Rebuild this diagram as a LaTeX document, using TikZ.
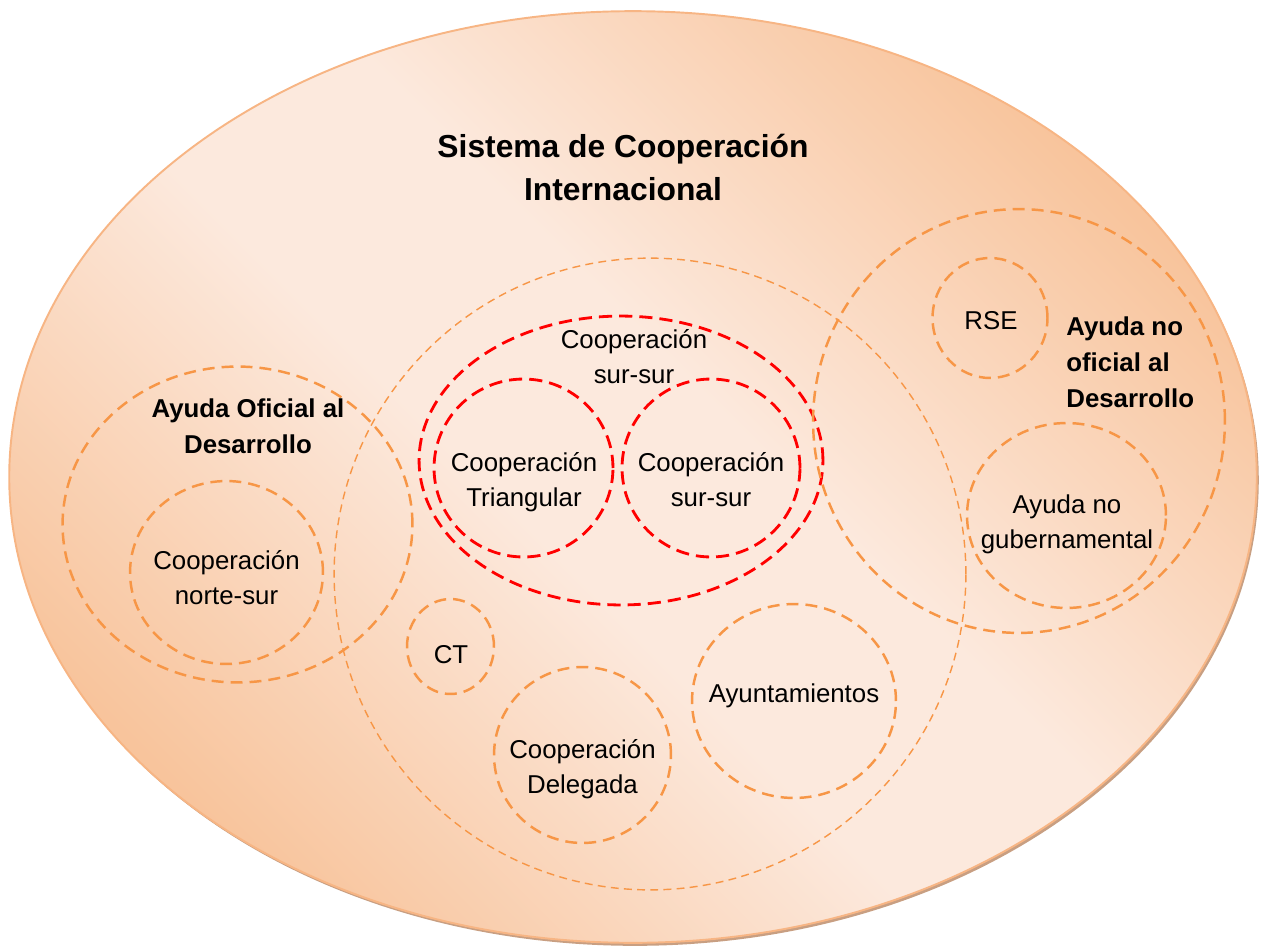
\documentclass[tikz,border=0pt]{standalone}
\usepackage{fontspec}
\setmainfont{Liberation Sans}
\usetikzlibrary{shapes.geometric}
\definecolor{peachdark}{HTML}{F8C49C}
\definecolor{peachlight}{HTML}{FCE9DD}
\definecolor{peachline}{HTML}{F7B584}
\definecolor{peachshadow}{HTML}{C89F82}
\definecolor{dashorange}{HTML}{F79646}
\definecolor{dashred}{HTML}{FF0000}
\pgfdeclarehorizontalshading{peachband}{100bp}{color(0bp)=(peachdark); color(25bp)=(peachdark); color(45bp)=(peachlight); color(55bp)=(peachlight); color(75bp)=(peachdark); color(100bp)=(peachdark)}
\tikzset{
  oval/.style 2 args={ellipse, inner sep=0pt, outer sep=0pt, minimum width=#1*0.04cm, minimum height=#2*0.04cm},
  grp/.style={draw=dashorange, line width=1.4pt, dash pattern=on 6.8pt off 4pt},
  grpthin/.style={draw=dashorange, line width=0.8pt, dash pattern=on 4.5pt off 3pt},
  grpred/.style={draw=dashred, line width=1.6pt, dash pattern=on 7.5pt off 4pt},
  txt/.style={align=center, inner sep=0pt, anchor=base, font=\fontsize{14.7}{19.8}\selectfont},
  lbl/.style={txt, font=\fontsize{14.7}{20.4}\selectfont\bfseries},
}
\begin{document}
\begin{tikzpicture}[x=0.02cm, y=-0.02cm]
			\useasboundingbox (0,0) rectangle (1261,950);
			\node[oval={624}{466}, fill=peachshadow] (sombra) at (635,480) {};
			\node[oval={624}{466}, draw=peachline, line width=1.1pt,
				shading=peachband, shading angle=45] (sistema) at (633,477) {};
			\node[oval={316}{316}, grpthin] (centro) at (650,574) {};
			\node[oval={175}{158}, grp] (aod) at (237.5,524.5) {};
			\node[oval={96.5}{91.5}, grp] (nortesur) at (226.5,572.5) {};
			\node[oval={202}{144.5}, grpred] (sursur) at (621,460.5) {};
			\node[oval={89.5}{89}, grpred] (triangular) at (523.5,468) {};
			\node[oval={89}{89}, grpred] (sursurint) at (711,468) {};
			\node[oval={206}{212}, grp] (anod) at (1019,421) {};
			\node[oval={57.5}{60}, grp] (rse) at (990,318) {};
			\node[oval={99.5}{92.5}, grp] (nogub) at (1066.5,515.5) {};
			\node[oval={43.5}{47.5}, grp] (ct) at (450.5,646.5) {};
			\node[oval={88.5}{88}, grp] (delegada) at (582.5,755) {};
			\node[oval={102}{97}, grp] (ayunt) at (794,701) {};
			\node[lbl, font=\fontsize{18.1}{24.4}\selectfont\bfseries] (titulo) at (623,200) {Sistema de Cooperación\\Internacional};
			\node[lbl] (aodtxt) at (248,453) {Ayuda Oficial al\\Desarrollo};
			\node[lbl, align=left, anchor=base west] (anodtxt) at (1066,407) {Ayuda no\\oficial al\\Desarrollo};
			\node[txt] (nortesurtxt) at (226.5,604) {Cooperación\\norte-sur};
			\node[txt] (sursurtxt) at (634,383) {Cooperación\\sur-sur};
			\node[txt] (triangulartxt) at (524,506) {Cooperación\\Triangular};
			\node[txt] (sursurinttxt) at (711,506) {Cooperación\\sur-sur};
			\node[txt] (rsetxt) at (991,329) {RSE};
			\node[txt] (nogubtxt) at (1067,548) {Ayuda no\\gubernamental};
			\node[txt] (cttxt) at (451,663) {CT};
			\node[txt] (delegadatxt) at (582.5,793) {Cooperación\\Delegada};
			\node[txt] (ayunttxt) at (794,702) {Ayuntamientos};
		\end{tikzpicture}
\end{document}
